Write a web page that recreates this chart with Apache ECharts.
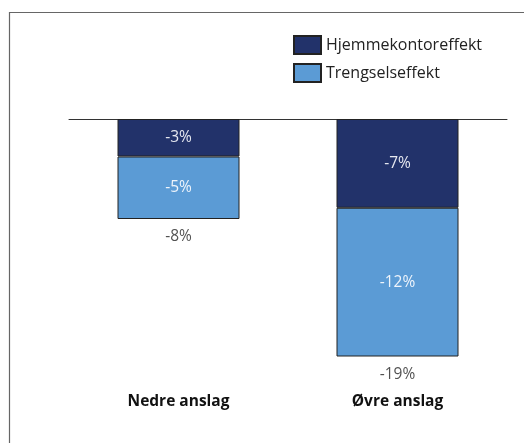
<!DOCTYPE html>
<html>
<head>
<meta charset="utf-8">
<script src="https://cdn.jsdelivr.net/npm/echarts@6/dist/echarts.min.js"></script>
<style>html,body{margin:0;padding:0;background:#fff}#c{width:524px;height:443px}</style>
</head>
<body>
<div id="c"></div>
<script>
const categories = ['Nedre anslag', 'Øvre anslag'];
const hjemmekontor = [-3.0, -7.1];
const trengsel = [-5.0, -11.9];
const totals = [-8, -19];
const seriesNames = ['Hjemmekontoreffekt', 'Trengselseffekt'];

const FONT = 'Open Sans';
const chart = echarts.init(document.getElementById('c'), null, {renderer: 'canvas'});
chart.setOption({
  animation: false,
  textStyle: {fontFamily: FONT},
  graphic: [{
    type: 'rect', silent: true, z: -1,
    shape: {x: 9.5, y: 12.5, width: 600, height: 600},
    style: {fill: 'none', stroke: '#666', lineWidth: 1.2}
  }],
  legend: {
    orient: 'vertical', left: 288, top: 30,
    itemWidth: 27, itemHeight: 18, itemGap: 8, icon: 'rect',
    data: seriesNames,
    textStyle: {fontFamily: FONT, fontSize: 16, color: '#222', lineHeight: 19}
  },
  grid: {left: 69, right: 17, top: 119, bottom: 61.5},
  xAxis: [{
    type: 'category', data: categories, position: 'top',
    axisLine: {show: true, onZero: false, lineStyle: {color: '#333', width: 1}},
    axisTick: {show: false}, axisLabel: {show: false}
  }, {
    type: 'category', data: categories, position: 'bottom',
    axisLine: {show: false}, axisTick: {show: false},
    axisLabel: {fontFamily: FONT, fontSize: 15.5, fontWeight: 'bold', color: '#111', margin: 12}
  }],
  yAxis: {type: 'value', min: -21, max: 0, show: false, splitLine: {show: false}},
  series: [{
    name: seriesNames[0], type: 'bar', stack: 'a', data: hjemmekontor, barWidth: 122,
    itemStyle: {color: '#22326a', borderColor: '#222', borderWidth: 1},
    label: {show: true, position: 'inside', color: '#e6e8f0', fontSize: 15.5, fontFamily: FONT,
      formatter: p => Math.round(p.value) + '%'}
  }, {
    name: seriesNames[1], type: 'bar', stack: 'a', data: trengsel, barWidth: 122,
    itemStyle: {color: '#5b9bd5', borderColor: '#222', borderWidth: 1},
    label: {show: true, position: 'inside', color: '#eef4fb', fontSize: 15.5, fontFamily: FONT,
      formatter: p => Math.round(p.value) + '%'}
  }, {
    name: 'total', type: 'scatter', data: totals, symbolSize: 0, silent: true,
    label: {show: true, position: 'bottom', distance: 10, color: '#262626', fontSize: 15.5, fontFamily: FONT,
      formatter: p => p.value + '%'}
  }]
});
</script>
</body>
</html>
